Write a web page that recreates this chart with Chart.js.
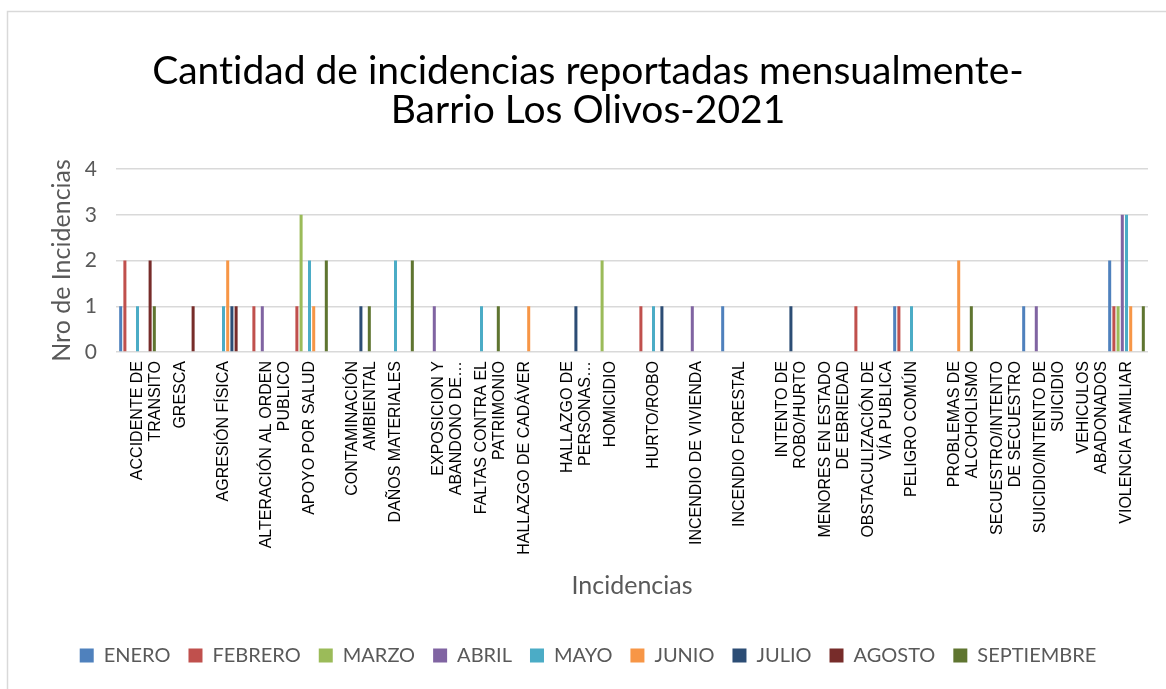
<!DOCTYPE html>
<html>
<head>
<meta charset="utf-8">
<script src="https://cdn.jsdelivr.net/npm/chart.js@4"></script>
<style>
  html, body { margin: 0; padding: 0; background: #fff; }
  canvas { display: block; }
</style>
</head>
<body>
<canvas id="chart" width="1166" height="689"></canvas>
<script>
// incident categories (multi-line labels, as wrapped in the sheet)
const categories = [
  ["ACCIDENTE DE", "TRANSITO"],
  "GRESCA",
  "AGRESIÓN FÍSICA",
  ["ALTERACIÓN AL ORDEN", "PUBLICO"],
  "APOYO POR SALUD",
  ["CONTAMINACIÓN", "AMBIENTAL"],
  "DAÑOS MATERIALES",
  ["EXPOSICION Y", "ABANDONO DE…"],
  ["FALTAS CONTRA EL", "PATRIMONIO"],
  "HALLAZGO DE CADÁVER",
  ["HALLAZGO DE", "PERSONAS…"],
  "HOMICIDIO",
  "HURTO/ROBO",
  "INCENDIO DE VIVIENDA",
  "INCENDIO FORESTAL",
  ["INTENTO DE", "ROBO/HURTO"],
  ["MENORES EN ESTADO", "DE EBRIEDAD"],
  ["OBSTACULIZACIÓN DE", "VÍA PUBLICA"],
  "PELIGRO COMÚN",
  ["PROBLEMAS DE", "ALCOHOLISMO"],
  ["SECUESTRO/INTENTO", "DE SECUESTRO"],
  ["SUICIDIO/INTENTO DE", "SUICIDIO"],
  ["VEHICULOS", "ABADONADOS"],
  "VIOLENCIA FAMILIAR"
];

const months = ["ENERO", "FEBRERO", "MARZO", "ABRIL", "MAYO", "JUNIO", "JULIO", "AGOSTO", "SEPTIEMBRE"];

//                  ACC GRE AGR ALT APO CON DAN EXP FAL HCA HPE HOM HUR IVI IFO IRO MEN OBS PEL PRO SEC SUI VEH VIO
const enero      = [1,  0,  0,  0,  0,  0,  0,  0,  0,  0,  0,  0,  0,  0,  1,  0,  0,  0,  1,  0,  0,  1,  0,  2];
const febrero    = [2,  0,  0,  1,  1,  0,  0,  0,  0,  0,  0,  0,  1,  0,  0,  0,  0,  1,  1,  0,  0,  0,  0,  1];
const marzo      = [0,  0,  0,  0,  3,  0,  0,  0,  0,  0,  0,  2,  0,  0,  0,  0,  0,  0,  0,  0,  0,  0,  0,  1];
const abril      = [0,  0,  0,  1,  0,  0,  0,  1,  0,  0,  0,  0,  0,  1,  0,  0,  0,  0,  0,  0,  0,  1,  0,  3];
const mayo       = [1,  0,  1,  0,  2,  0,  2,  0,  1,  0,  0,  0,  1,  0,  0,  0,  0,  0,  1,  0,  0,  0,  0,  3];
const junio      = [0,  0,  2,  0,  1,  0,  0,  0,  0,  1,  0,  0,  0,  0,  0,  0,  0,  0,  0,  2,  0,  0,  0,  1];
const julio      = [0,  0,  1,  0,  0,  1,  0,  0,  0,  0,  1,  0,  1,  0,  0,  1,  0,  0,  0,  0,  0,  0,  0,  0];
const agosto     = [2,  1,  1,  0,  0,  0,  0,  0,  0,  0,  0,  0,  0,  0,  0,  0,  0,  0,  0,  0,  0,  0,  0,  0];
const septiembre = [1,  0,  0,  0,  2,  1,  2,  0,  1,  0,  0,  0,  0,  0,  0,  0,  0,  0,  0,  1,  0,  0,  0,  1];

const series = [enero, febrero, marzo, abril, mayo, junio, julio, agosto, septiembre];
const colors = ["#4F81BD", "#C0504D", "#9BBB59", "#8064A2", "#4BACC6", "#F79646", "#2C4D75", "#772C2A", "#5F7530"];

const yTicks = [0, 1, 2, 3, 4];

const GRAY = "#595959";
const LABEL_SIZE = 16;
const LABEL_LH = 18;

// light frame round the chart, like the spreadsheet chart object;
// also switch off Lato's "ti" ligature
const frame = {
  id: "frame",
  beforeDraw(chart) {
    const { ctx, width, height } = chart;
    ctx.textRendering = "optimizeSpeed";
    ctx.save();
    ctx.fillStyle = "#fff";
    ctx.fillRect(0, 0, width, height);
    ctx.strokeStyle = "#d9d9d9";
    ctx.lineWidth = 1.5;
    ctx.strokeRect(7.5, 11.5, width + 20, height + 20);
    ctx.restore();
  }
};

new Chart(document.getElementById("chart"), {
  type: "bar",
  data: {
    labels: categories,
    datasets: months.map((m, i) => ({
      label: m,
      data: series[i],
      backgroundColor: colors[i],
      borderWidth: 0,
      categoryPercentage: 0.88,
      barPercentage: 0.72
    }))
  },
  options: {
    responsive: false,
    animation: false,
    devicePixelRatio: 1,
    layout: { padding: { top: 0, left: 28, right: 18, bottom: 13.5 } },
    plugins: {
      title: {
        display: true,
        text: ["Cantidad de incidencias reportadas mensualmente-", "Barrio Los Olivos-2021"],
        color: "#000",
        font: { family: "Lato", size: 39, weight: "normal", lineHeight: 1.0 },
        padding: { top: 52, bottom: 39 }
      },
      legend: {
        position: "bottom",
        labels: {
          color: GRAY,
          font: { family: "Lato", size: 20 },
          boxWidth: 14,
          boxHeight: 14,
          padding: 18
        }
      },
      tooltip: { enabled: false }
    },
    scales: {
      x: {
        grid: { display: false, drawTicks: false },
        border: { display: false },
        ticks: {
          autoSkip: false,
          minRotation: 90,
          maxRotation: 90,
          padding: 9,
          color: "#000",
          font: { family: "Liberation Sans", size: LABEL_SIZE, lineHeight: LABEL_LH / LABEL_SIZE },
          // centre the wrapped block of lines on its category
          labelOffset: (ctx) => {
            const l = categories[ctx.index];
            const n = Array.isArray(l) ? l.length : 1;
            return -(n - 1) * LABEL_LH / 2;
          }
        },
        title: {
          display: true,
          text: "Incidencias",
          color: GRAY,
          font: { family: "Lato", size: 25, lineHeight: 1.2 },
          padding: { top: 0, bottom: 26.5 }
        },
        afterFit(scale) { scale.height = 275.5; }
      },
      y: {
        min: 0,
        max: 4,
        afterBuildTicks(scale) { scale.ticks = yTicks.map((v) => ({ value: v })); },
        grid: { color: "#d9d9d9", lineWidth: 1.5, drawTicks: false },
        border: { display: false },
        ticks: {
          color: GRAY,
          padding: 19,
          font: { family: "Lato", size: 21 }
        },
        title: {
          display: true,
          text: "Nro de Incidencias",
          color: GRAY,
          font: { family: "Lato", size: 25, lineHeight: 1.2 },
          padding: { top: 19, bottom: 0 }
        },
        afterFit(scale) { scale.width = 88; }
      }
    }
  },
  plugins: [frame]
});
</script>
</body>
</html>
